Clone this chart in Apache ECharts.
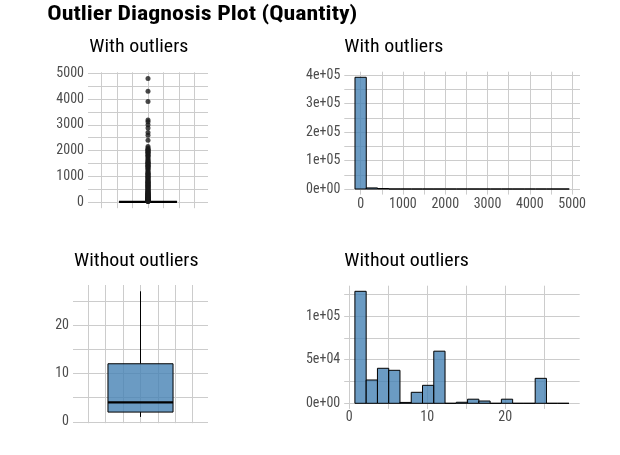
<!DOCTYPE html>
<html><head><meta charset="utf-8">
<script src="https://cdn.jsdelivr.net/npm/echarts@6/dist/echarts.min.js"></script>
<style>html,body{margin:0;padding:0;background:#fff}#c{width:620px;height:455px}</style>
</head><body><div id="c"></div><script>
// ---------- text ----------
const mainTitle = 'Outlier Diagnosis Plot (Quantity)';
const panelTitles = ['With outliers', 'With outliers', 'Without outliers', 'Without outliers'];

// ---------- boxplot stats: [lower whisker, Q1, median, Q3, upper whisker] ----------
const boxAll = [1, 2, 6, 12, 27];
const boxClean = [1, 2, 4, 12, 27];
// outliers of the full data (estimated from the dense column of points)
const outliersAll = [28, 30, 32, 36, 40, 42, 48, 50, 54, 56, 60, 64, 66, 70, 72, 75, 80, 84, 88, 90,
  96, 100, 108, 112, 120, 125, 128, 132, 140, 144, 150, 160, 168, 180, 192, 200, 210, 216, 224, 240,
  250, 256, 270, 280, 288, 300, 320, 324, 336, 350, 360, 384, 400, 420, 432, 450, 480, 500, 504, 540,
  560, 576, 600, 624, 640, 648, 672, 700, 720, 744, 750, 768, 800, 816, 840, 864, 900, 912, 960, 972,
  1000, 1008, 1056, 1080, 1100, 1120, 1152, 1200, 1248, 1296, 1300, 1350, 1394, 1400, 1412, 1440, 1488,
  1500, 1515, 1540, 1568, 1600, 1632, 1680, 1728, 1788, 1800, 1824, 1878, 1900, 1930, 1944, 1992, 2000,
  2040, 2048, 2100, 2160, 2400, 2592, 2700, 2880, 3000, 3114, 3186, 3906, 4300, 4800];

// ---------- histograms ----------
const histAllBinWidth = 266.61;
const histAllFirstCenter = 0;
const histAllCounts = [392000, 3800, 1600, 120, 50, 25, 12, 8, 5, 3, 2, 1, 2, 1, 0, 1, 1, 0, 1];
const histCleanBinWidth = 1.4444;
const histCleanFirstCenter = 1.4444;
const histCleanCounts = [128300, 26700, 40100, 37800, 1000, 12600, 20600, 59700, 0, 1200,
  4700, 2600, 0, 4700, 0, 0, 28600, 0, 0];

// ---------- ticks ----------
const boxXGrid = [-3, -2, -1, 0, 1, 2, 3];
const tlYGrid = [0, 500, 1000, 1500, 2000, 2500, 3000, 3500, 4000, 4500, 5000];
const tlYLabels = [0, 1000, 2000, 3000, 4000, 5000];
const trXGrid = [0, 500, 1000, 1500, 2000, 2500, 3000, 3500, 4000, 4500, 5000];
const trXLabels = [0, 1000, 2000, 3000, 4000, 5000];
const trYGrid = [0, 50000, 100000, 150000, 200000, 250000, 300000, 350000, 400000];
const trYLabels = [0, 100000, 200000, 300000, 400000];
const trYTexts = ['0e+00', '1e+05', '2e+05', '3e+05', '4e+05'];
const blYGrid = [0, 5, 10, 15, 20, 25];
const blYLabels = [0, 10, 20];
const brXGrid = [0, 5, 10, 15, 20, 25];
const brXLabels = [0, 10, 20];
const brYGrid = [0, 25000, 50000, 75000, 100000, 125000];
const brYLabels = [0, 50000, 100000];
const brYTexts = ['0e+00', '5e+04', '1e+05'];

// ---------- style ----------
const FILL = 'rgba(70,130,180,0.8)';
const GRIDC = '#cccccc';
const LABC = '#4d4d4d';
const FONT = 'Roboto';
const BOX_HALF = 1.87;

const mctx = document.createElement('canvas').getContext('2d');
function textW(font, s) { mctx.font = font; return mctx.measureText(s).width; }
// use a condensed face of Roboto when the installed font offers one
const condensedOK = textW('condensed normal 13.5px Roboto', '5000') < textW('normal normal 13.5px Roboto', '5000') - 1;
const STRETCH = condensedOK ? 'condensed' : 'normal';
const LABSIZE = condensedOK ? 14 : 12.8;
const titleScale = 310 / textW(STRETCH + ' bold 21px Roboto', mainTitle);
const panelScale = 99 / textW(STRETCH + ' normal 18px Roboto', 'With outliers');

function axis(gridIndex, min, max, gridVals, labelVals, texts, margin) {
  const a = {
    type: 'value', gridIndex, min, max,
    axisLine: { show: false },
    axisTick: { show: false, customValues: gridVals },
    splitLine: { show: true, customValues: gridVals, lineStyle: { color: GRIDC, width: 1 } },
    axisLabel: { show: false }
  };
  if (labelVals) {
    a.axisLabel = {
      show: true, customValues: labelVals, color: LABC, fontFamily: FONT, fontStyle: STRETCH,
      fontSize: LABSIZE, margin,
      formatter: v => {
        const i = labelVals.indexOf(v);
        return texts ? (i >= 0 ? texts[i] : '') : String(v);
      }
    };
  }
  return a;
}

function histData(first, w, counts) {
  return counts.map((c, i) => {
    const ctr = first + i * w;
    return [ctr - w / 2, ctr + w / 2, c];
  });
}

function histRender(params, api) {
  const a = api.coord([api.value(0), 0]);
  const b = api.coord([api.value(1), api.value(2)]);
  return {
    type: 'rect',
    shape: { x: a[0], y: b[1], width: b[0] - a[0], height: a[1] - b[1] },
    style: { fill: FILL, stroke: '#000', lineWidth: 1 }
  };
}

function boxRender(params, api) {
  const lo = api.value(1), q1 = api.value(2), med = api.value(3), q3 = api.value(4), hi = api.value(5);
  const pLo = api.coord([0, lo]), pHi = api.coord([0, hi]);
  const pQ1 = api.coord([0, q1]), pQ3 = api.coord([0, q3]);
  const l = api.coord([-BOX_HALF, q1]), r = api.coord([BOX_HALF, q3]);
  const m = api.coord([0, med]);
  return {
    type: 'group', children: [
      { type: 'line', shape: { x1: pQ3[0], y1: pQ3[1], x2: pHi[0], y2: pHi[1] }, style: { stroke: '#000', lineWidth: 1 } },
      { type: 'line', shape: { x1: pQ1[0], y1: pQ1[1], x2: pLo[0], y2: pLo[1] }, style: { stroke: '#000', lineWidth: 1 } },
      { type: 'rect', shape: { x: l[0], y: r[1], width: r[0] - l[0], height: l[1] - r[1] }, style: { fill: FILL, stroke: '#000', lineWidth: 1 } },
      { type: 'line', shape: { x1: l[0], y1: m[1], x2: r[0], y2: m[1] }, style: { stroke: '#000', lineWidth: 2.4 } }
    ]
  };
}

function ptitle(text, x, y) {
  return {
    type: 'text', x, y, scaleX: panelScale,
    style: { text, fontFamily: FONT, fontStyle: STRETCH, fontSize: 18, fill: '#000', verticalAlign: 'middle', align: 'left' }
  };
}

const chart = echarts.init(document.getElementById('c'), null, { renderer: 'canvas' });
chart.setOption({
  animation: false,
  backgroundColor: '#fff',
  grid: [
    { left: 88, top: 72.3, width: 120, height: 135.9 },
    { left: 344.3, top: 71.7, width: 235.7, height: 122.9 },
    { left: 73, top: 285, width: 135, height: 138.2 },
    { left: 344.2, top: 285.7, width: 235.5, height: 123.2 }
  ],
  xAxis: [
    axis(0, -3.88, 3.88, boxXGrid, null),
    axis(1, -386, 5186, trXGrid, trXLabels, null, 3),
    axis(2, -3.88, 3.88, boxXGrid, null),
    axis(3, -0.65, 29.54, brXGrid, brXLabels, null, 2)
  ],
  yAxis: [
    axis(0, -240, 5040, tlYGrid, tlYLabels, null, 4),
    axis(1, -19600, 411600, trYGrid, trYLabels, trYTexts, 4),
    axis(2, -0.3, 28.3, blYGrid, blYLabels, null, 4),
    axis(3, -6415, 134715, brYGrid, brYLabels, brYTexts, 4)
  ],
  graphic: [
    {
      type: 'text', x: 47.3, y: 14.5, scaleX: titleScale,
      style: { text: mainTitle, fontFamily: FONT, fontStyle: STRETCH, fontWeight: 'bold', fontSize: 21, fill: '#000', verticalAlign: 'middle', align: 'left' }
    },
    ptitle(panelTitles[0], 89.3, 47.8),
    ptitle(panelTitles[1], 344.3, 47.8),
    ptitle(panelTitles[2], 74, 261.8),
    ptitle(panelTitles[3], 344.3, 261.8)
  ],
  series: [
    {
      type: 'custom', xAxisIndex: 0, yAxisIndex: 0, renderItem: boxRender,
      data: [[0].concat(boxAll)], encode: { x: 0, y: [1, 2, 3, 4, 5] }, silent: true
    },
    {
      type: 'scatter', xAxisIndex: 0, yAxisIndex: 0, symbol: 'circle', symbolSize: 5,
      itemStyle: { color: '#1a1a1a' }, data: outliersAll.map(v => [0, v]), silent: true
    },
    {
      type: 'custom', xAxisIndex: 1, yAxisIndex: 1, renderItem: histRender,
      data: histData(histAllFirstCenter, histAllBinWidth, histAllCounts), encode: { x: [0, 1], y: 2 }, silent: true
    },
    {
      type: 'custom', xAxisIndex: 2, yAxisIndex: 2, renderItem: boxRender,
      data: [[0].concat(boxClean)], encode: { x: 0, y: [1, 2, 3, 4, 5] }, silent: true
    },
    {
      type: 'custom', xAxisIndex: 3, yAxisIndex: 3, renderItem: histRender,
      data: histData(histCleanFirstCenter, histCleanBinWidth, histCleanCounts), encode: { x: [0, 1], y: 2 }, silent: true
    }
  ]
});
</script></body></html>
